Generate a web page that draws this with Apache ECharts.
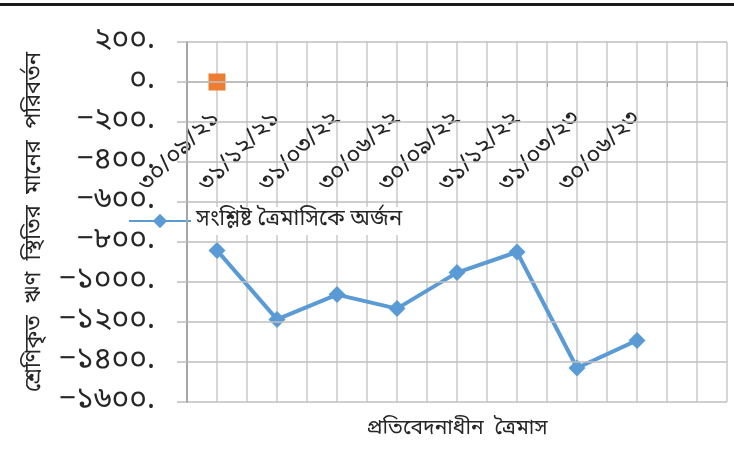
<!DOCTYPE html>
<html>
<head>
<meta charset="utf-8">
<script src="https://cdn.jsdelivr.net/npm/echarts@6/dist/echarts.min.js"></script>
<style>
html,body{margin:0;padding:0;background:#fff;}
#chart{width:734px;height:458px;}
</style>
</head>
<body>
<div id="chart"></div>
<script>
var categories = ['৩০/০৯/২১','৩১/১২/২১','৩১/০৩/২২','৩০/০৬/২২','৩০/০৯/২২','৩১/১২/২২','৩১/০৩/২৩','৩০/০৬/২৩',''];
var achievedValues = [-842, -1187, -1063, -1133, -953, -850, -1430, -1292];
var markerValues = [0, null, null, null, null, null, null, null];
var yTickValues = [200, 0, -200, -400, -600, -800, -1000, -1200, -1400, -1600];
var yTickLabels = ['২০০.', '০.', '−২০০.', '−৪০০.', '−৬০০.', '−৮০০.', '−১০০০.', '−১২০০.', '−১৪০০.', '−১৬০০.'];
var seriesName = 'সংশ্লিষ্ট ত্রৈমাসিকে অর্জন';
var yAxisTitle = 'শ্রেণিকৃত  ঋণ  স্থিতির  মানের  পরিবর্তন';
var xAxisTitle = 'প্রতিবেদনাধীন  ত্রৈমাস';
var minorSlots = ['', '', '', '', '', '', '', '', '', '', '', '', '', '', '', '', '', ''];

var FONT = "'Noto Sans Bengali','Noto Serif Bengali','Lohit Bengali','FreeSans','Noto Sans',sans-serif";
var GRID_TOP = 42, GRID_BOTTOM = 56, H = 458;
var Y_MIN = -1600, Y_MAX = 200;
// place the category axis line at value 0 (Excel style "axis crosses at 0")
var zeroOffset = -((H - GRID_BOTTOM - GRID_TOP) * (0 - Y_MIN) / (Y_MAX - Y_MIN));

var chart = echarts.init(document.getElementById('chart'), null, {renderer: 'canvas'});
chart.setOption({
  animation: false,
  backgroundColor: '#fff',
  textStyle: {fontFamily: FONT, color: '#262626'},
  grid: {left: 187, right: 7, top: GRID_TOP, bottom: GRID_BOTTOM, containLabel: false, outerBoundsMode: 'none'},
  graphic: [{type: 'rect', left: 0, top: 3, shape: {width: 734, height: 3}, style: {fill: '#1a1a1a'}, z: 100}],
  legend: {
    data: [seriesName],
    left: 124, top: 207,
    backgroundColor: '#fff',
    padding: [3, 6, 3, 4],
    itemWidth: 62, itemHeight: 18, itemGap: 6,
    textStyle: {fontFamily: FONT, fontSize: 22, color: '#262626'}
  },
  xAxis: [{
    type: 'category',
    data: categories,
    boundaryGap: true,
    offset: zeroOffset,
    axisLine: {onZero: false, lineStyle: {color: '#a6a6a6', width: 1.5}},
    axisTick: {show: true, length: 5, interval: 0, lineStyle: {color: '#a6a6a6'}},
    axisLabel: {interval: 0, rotate: 45, margin: 34, fontSize: 24, color: '#262626', fontFamily: FONT},
    splitLine: {show: false}
  }, {
    type: 'category',
    data: minorSlots,
    position: 'bottom',
    boundaryGap: true,
    axisLine: {show: false, onZero: false},
    axisTick: {show: false},
    axisLabel: {show: false},
    splitLine: {show: true, interval: 0, lineStyle: {color: '#d6d6d6', width: 2}},
    name: xAxisTitle,
    nameLocation: 'middle',
    nameGap: 17,
    nameTextStyle: {fontSize: 21, color: '#262626', fontFamily: FONT}
  }],
  yAxis: {
    type: 'value',
    min: Y_MIN, max: Y_MAX, interval: 200,
    z: 10,
    axisLine: {show: true, lineStyle: {color: '#a6a6a6', width: 2}},
    axisTick: {show: true, length: 10, lineStyle: {color: '#bfbfbf', width: 1.5}},
    axisLabel: {
      margin: 32, fontSize: 30, color: '#262626', fontFamily: FONT,
      formatter: function (v) { var i = yTickValues.indexOf(v); return i >= 0 ? yTickLabels[i] : ''; }
    },
    splitLine: {show: true, lineStyle: {color: '#bfbfbf', width: 1.5}},
    name: yAxisTitle,
    nameLocation: 'middle',
    nameGap: 140,
    nameRotate: 90,
    nameTextStyle: {fontSize: 22, color: '#262626', fontFamily: FONT}
  },
  series: [{
    name: seriesName,
    type: 'line',
    data: achievedValues,
    xAxisIndex: 0,
    symbol: 'diamond',
    symbolSize: 17,
    lineStyle: {color: '#5b9bd5', width: 4},
    itemStyle: {color: '#5b9bd5'},
    z: 5
  }, {
    name: 'marker',
    type: 'line',
    data: markerValues,
    xAxisIndex: 0,
    symbol: 'rect',
    symbolSize: 17,
    showSymbol: true,
    lineStyle: {width: 0},
    itemStyle: {color: '#ed7d31'},
    z: 6
  }]
});
</script>
</body>
</html>
